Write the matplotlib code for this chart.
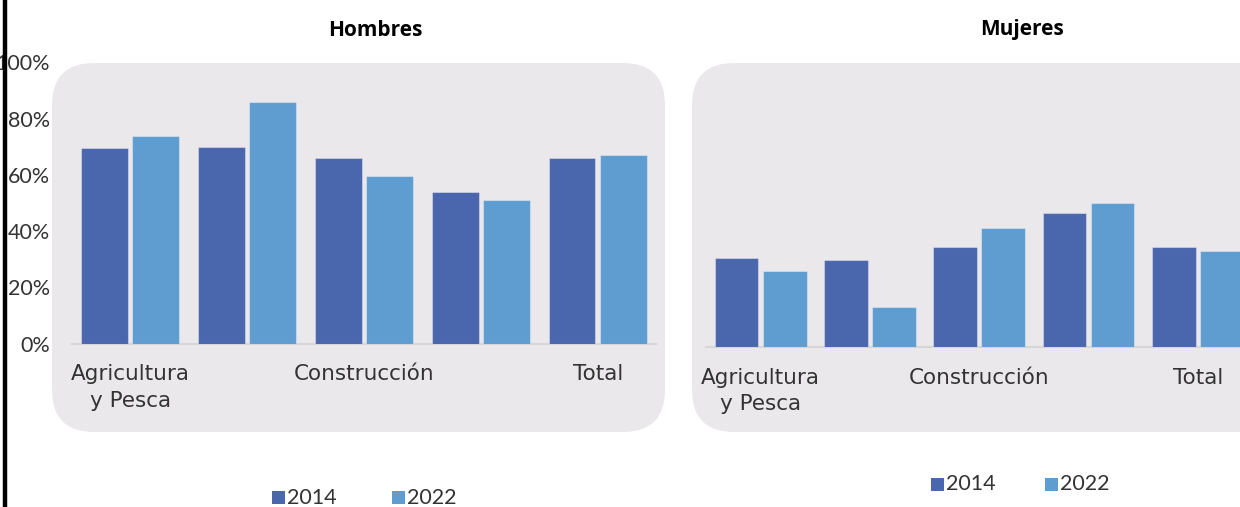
import numpy as np
import matplotlib
matplotlib.use("Agg")
import matplotlib.pyplot as plt
from matplotlib.patches import FancyBboxPatch, Rectangle
from matplotlib.lines import Line2D
from matplotlib.transforms import IdentityTransform

# data (% of employed)
categories = ["Agricultura\ny Pesca", "Industria", "Construcción", "Servicios", "Total"]
shown_labels = [0, 2, 4]  # only every other label is printed in the original
years = ["2014", "2022"]
hombres_2014 = [69.5, 70.0, 66.0, 54.0, 66.0]
hombres_2022 = [73.8, 86.0, 59.5, 51.0, 67.0]
mujeres_2014 = [31.5, 31.0, 35.4, 47.5, 35.4]
mujeres_2022 = [27.0, 14.2, 42.2, 51.0, 34.2]
yticks = [0, 20, 40, 60, 80, 100]

c2014 = "#4A66AC"
c2022 = "#5F9DD1"
bg = "#EAE8EB"
txt = "#333333"

W, H = 1240, 507
fig = plt.figure(figsize=(W / 100, H / 100), dpi=100)


def px_axes(x0, x1, ytop, ybot):
    # pixel box (from top-left) -> figure fraction axes
    return fig.add_axes([x0 / W, (H - ybot) / H, (x1 - x0) / W, (ybot - ytop) / H])


# rounded grey panels behind each chart
for x0, x1 in [(52, 665), (692, 1300)]:
    box = FancyBboxPatch((x0, H - 432), x1 - x0, 369,
                         boxstyle="round,pad=0,rounding_size=42",
                         transform=IdentityTransform(), facecolor=bg,
                         edgecolor="none", zorder=0)
    fig.add_artist(box)

ax1 = px_axes(71.7, 71.7 + 5 * 116.9, 62.5, 343.5)
ax2 = px_axes(706, 706 + 5 * 109.3, 65.5, 347)

x = np.arange(len(categories))
for ax, v14, v22 in [(ax1, hombres_2014, hombres_2022), (ax2, mujeres_2014, mujeres_2022)]:
    ax.set_facecolor("none")
    ax.bar(x - 0.22, v14, width=0.40, color=c2014, edgecolor=(1, 1, 1, 0.35), linewidth=0.8, zorder=3)
    ax.bar(x + 0.22, v22, width=0.40, color=c2022, edgecolor=(1, 1, 1, 0.35), linewidth=0.8, zorder=3)
    ax.set_xlim(-0.5, 4.5)
    ax.set_ylim(0, 100)
    for s in ["top", "right", "left"]:
        ax.spines[s].set_visible(False)
    ax.spines["bottom"].set_color("#D6D6D6")
    ax.spines["bottom"].set_linewidth(1.6)
    ax.set_xticks([x[i] for i in shown_labels])
    ax.set_xticklabels([categories[i] for i in shown_labels], fontsize=15.5,
                       color=txt, family="DejaVu Sans", linespacing=1.4)
    ax.tick_params(axis="x", length=0, pad=15)

ax1.set_yticks(yticks)
ax1.set_yticklabels([f"{t}%" for t in yticks], fontsize=15.5, color=txt, family="Lato")
ax1.tick_params(axis="y", length=0, pad=15.5)
ax2.set_yticks([])

# titles
fig.text(375.5 / W, 1 - 30 / H, "Hombres", ha="center", va="center",
         fontsize=15, fontweight="bold", family="Open Sans", color="black")
fig.text(1022 / W, 1 - 30 / H, "Mujeres", ha="center", va="center",
         fontsize=15, fontweight="bold", family="Open Sans", color="black")

# legends drawn by hand (pixel positions of the markers)
for (sx, yc), (sx2, _) in [((272, 497.5), (392, 497.5)), ((931, 484), (1045, 484))]:
    for xs, col, lab in [(sx, c2014, years[0]), (sx2, c2022, years[1])]:
        fig.add_artist(Rectangle((xs, H - yc - 6.5), 13, 13, transform=IdentityTransform(),
                                 facecolor=col, edgecolor="none"))
        fig.text((xs + 15) / W, 1 - yc / H, lab, ha="left", va="center",
                 fontsize=15.5, family="Lato", color=txt)

# black rule at the far left
fig.add_artist(Line2D([5, 5], [0, H], transform=IdentityTransform(),
                      color="black", linewidth=3.2, zorder=10))

fig.savefig("out.png", dpi=100)
